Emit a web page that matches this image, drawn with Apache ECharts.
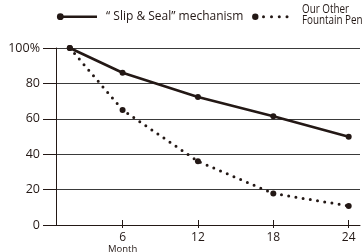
<!DOCTYPE html>
<html>
<head>
<meta charset="utf-8">
<script src="https://cdn.jsdelivr.net/npm/echarts@6/dist/echarts.min.js"></script>
<style>
  html, body { margin: 0; padding: 0; background: #fff; }
  #chart { width: 364px; height: 252px; }
</style>
</head>
<body>
<div id="chart"></div>
<script>
// months on the x axis (first point is the starting reading)
const months = [1.8, 6, 12, 18, 24]
const slipSeal = [100, 86, 72.3, 61.5, 49.8]
const otherPen = [100, 65, 36, 17.8, 10.8]
const monthTicks = [6, 12, 18, 24]
const seriesNames = ['“ Slip & Seal” mechanism', 'Our Other\nFountain Pen']

const ink = '#231815'
const font = 'Open Sans'

const chart = echarts.init(document.getElementById('chart'), null, { renderer: 'canvas' })

const pair = (xs, ys) => xs.map((x, i) => [x, ys[i]])

// legend keys are drawn by hand (line with a dot at its start / big dot + small dots)
const legendGraphics = [
  { type: 'rect', shape: { x: 60, y: 15.4, width: 37, height: 2.6 }, style: { fill: ink } },
  { type: 'circle', shape: { cx: 60.3, cy: 16.7, r: 3.4 }, style: { fill: ink } },
  {
    type: 'text', x: 106, y: 16.5,
    style: { text: seriesNames[0], font: '12px "Open Sans"', fill: ink, verticalAlign: 'middle' }
  },
  { type: 'circle', shape: { cx: 255.3, cy: 16.7, r: 3.2 }, style: { fill: ink } },
  ...[263.5, 271.5, 279.3, 287].map(cx => ({
    type: 'circle', shape: { cx, cy: 16.7, r: 1.5 }, style: { fill: ink }
  })),
  {
    type: 'text', x: 302, y: 4.5, scaleX: 0.82,
    style: { text: seriesNames[1], font: '12px "Open Sans"', lineHeight: 10.5, fill: ink, verticalAlign: 'top' }
  }
]

const gridBox = { left: 56, right: 4, top: 48, bottom: 27, containLabel: false, outerBoundsMode: 'none' }

const option = {
  animation: false,
  textStyle: { fontFamily: font, color: ink },
  grid: [
    Object.assign({}, gridBox),
    Object.assign({}, gridBox)
  ],
  graphic: legendGraphics,
  xAxis: [
    {
      type: 'value',
      gridIndex: 0,
      min: 0.7,
      max: 24.9,
      axisLine: { show: true, lineStyle: { color: ink, width: 1 } },
      axisTick: { show: true, length: 3, customValues: monthTicks, lineStyle: { color: ink } },
      axisLabel: {
        customValues: monthTicks,
        margin: 7,
        fontSize: 12,
        lineHeight: 12,
        color: ink,
        formatter: v => v === 6 ? '6\n{m|Month}' : String(v),
        rich: { m: { fontSize: 9.5, lineHeight: 10, color: ink } }
      },
      splitLine: { show: false }
    },
    {
      // upper half of the crossing month ticks
      type: 'value',
      gridIndex: 1,
      min: 0.7,
      max: 24.9,
      axisLine: { show: false },
      axisTick: { show: true, inside: true, length: 5, customValues: monthTicks, lineStyle: { color: ink } },
      axisLabel: { show: false },
      splitLine: { show: false }
    }
  ],
  yAxis: [
    {
      type: 'value',
      gridIndex: 0,
      min: 0,
      max: 100,
      interval: 20,
      axisLine: { show: true, lineStyle: { color: ink, width: 1 } },
      axisTick: { show: true, length: 13, lineStyle: { color: ink } },
      axisLabel: {
        margin: 16,
        fontSize: 12.5,
        color: ink,
        formatter: v => v === 100 ? '100%' : String(v)
      },
      splitLine: { show: true, lineStyle: { color: '#3a3a3a', width: 1 } }
    },
    { type: 'value', gridIndex: 1, min: 0, max: 100, show: false }
  ],
  series: [
    {
      name: seriesNames[0],
      type: 'line',
      data: pair(months, slipSeal),
      symbol: 'circle',
      symbolSize: 6,
      itemStyle: { color: ink },
      lineStyle: { color: ink, width: 2.6 },
      z: 3
    },
    {
      name: seriesNames[1],
      type: 'line',
      data: pair(months, otherPen),
      symbol: 'circle',
      symbolSize: 6,
      itemStyle: { color: ink },
      lineStyle: { color: ink, width: 3, type: [0, 7.3], cap: 'round' },
      z: 2
    }
  ]
}

chart.setOption(option)
</script>
</body>
</html>
